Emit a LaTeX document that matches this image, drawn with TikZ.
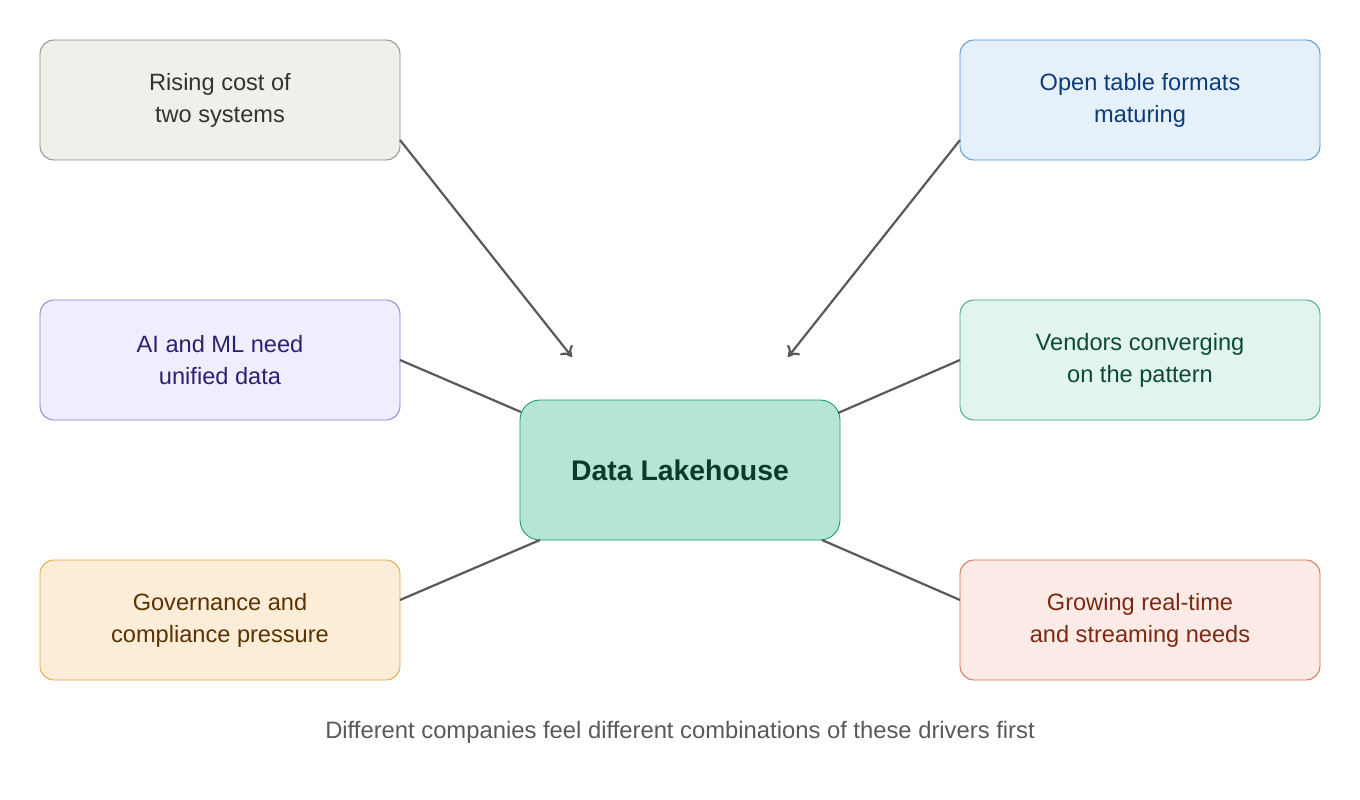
\documentclass[tikz,border=0pt]{standalone}
\usepackage{fontspec}
\setmainfont{Liberation Sans}
\usetikzlibrary{arrows.meta}
\begin{document}
\begin{tikzpicture}[x=1pt,y=-1pt,
  box/.style={draw,rounded corners=14pt,minimum width=360pt,minimum height=120pt,align=center,font=\fontsize{23.6}{32}\selectfont,line width=0.9pt},
  conn/.style={draw=black!65,line width=2.2pt},
  arr/.style={conn,-{To[length=10pt,width=16pt,line width=2.2pt]}}]
\useasboundingbox (0,0) rectangle (1360,800);
\definecolor{f1}{HTML}{F0EFEA}\definecolor{s1}{HTML}{8A8A80}\definecolor{t1}{HTML}{333333}
\definecolor{f2}{HTML}{E6F0FB}\definecolor{s2}{HTML}{4A90D9}\definecolor{t2}{HTML}{0C3C78}
\definecolor{f3}{HTML}{EFEDFE}\definecolor{s3}{HTML}{8B7FD6}\definecolor{t3}{HTML}{2A2270}
\definecolor{f4}{HTML}{E2F5EC}\definecolor{s4}{HTML}{3AA57A}\definecolor{t4}{HTML}{0B4A33}
\definecolor{f5}{HTML}{FBEDD8}\definecolor{s5}{HTML}{E8A83C}\definecolor{t5}{HTML}{5A3300}
\definecolor{f6}{HTML}{FBEAE5}\definecolor{s6}{HTML}{D46A4A}\definecolor{t6}{HTML}{7A2A14}
\definecolor{fc}{HTML}{B4E5D6}\definecolor{sc}{HTML}{1F9A70}\definecolor{tc}{HTML}{0B3A2C}
\node[box,fill=f1,draw=s1,text=t1] (a) at (220,100) {Rising cost of\\two systems};
\node[box,fill=f2,draw=s2,text=t2] (b) at (1140,100) {Open table formats\\maturing};
\node[box,fill=f3,draw=s3,text=t3] (c) at (220,360) {AI and ML need\\unified data};
\node[box,fill=f4,draw=s4,text=t4] (d) at (1140,360) {Vendors converging\\on the pattern};
\node[box,fill=f5,draw=s5,text=t5] (e) at (220,620) {Governance and\\compliance pressure};
\node[box,fill=f6,draw=s6,text=t6] (f) at (1140,620) {Growing real-time\\and streaming needs};
\node[box,fill=fc,draw=sc,text=tc,minimum width=320pt,minimum height=140pt,font=\fontsize{28.4}{32}\selectfont\bfseries,rounded corners=20pt] (m) at (680,470) {Data Lakehouse};
\node[text=black!65,font=\fontsize{23.8}{28}\selectfont] (cap) at (680,732) {Different companies feel different combinations of these drivers first};
\coordinate (ta) at (572,357);
\coordinate (tb) at (788,357);
\coordinate (a1) at (400,140);
\coordinate (b1) at (960,140);
\coordinate (e1) at (400,600);
\coordinate (f1) at (960,600);
\draw[arr] (a1) -- (ta);
\draw[arr] (b1) -- (tb);
\draw[conn] (400,360) -- (521,412);
\draw[conn] (960,360) -- (838,413);
\draw[conn] (e1) -- (540,540);
\draw[conn] (f1) -- (822,540);
\end{tikzpicture}
\end{document}
